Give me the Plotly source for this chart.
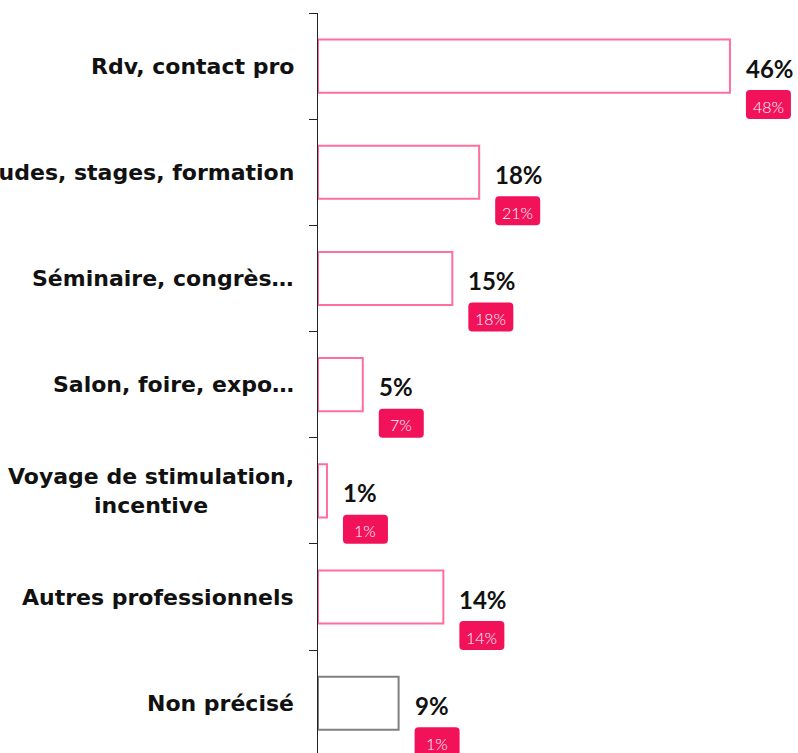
import plotly.graph_objects as go

categories = ["Rdv, contact pro", "Études, stages, formation", "Séminaire, congrès…",
              "Salon, foire, expo…", "Voyage de stimulation,<br>incentive",
              "Autres professionnels", "Non précisé"]
values = [46, 18, 15, 5, 1, 14, 9]
value_labels = ["46%", "18%", "15%", "5%", "1%", "14%", "9%"]
badge_labels = ["48%", "21%", "18%", "7%", "1%", "14%", "1%"]
outline_colors = ["#FF6F9C"] * 6 + ["#808080"]

PINK = "#F2125A"
ypos = list(range(len(categories)))

fig = go.Figure()
fig.add_trace(go.Bar(
    y=ypos, x=values, orientation="h", width=0.5,
    marker=dict(color="white", line=dict(color=outline_colors, width=2)),
    hoverinfo="skip",
))

annotations = []
shapes = []
for i, (cat, v, vl, bl) in enumerate(zip(categories, values, value_labels, badge_labels)):
    annotations.append(dict(
        xref="paper", x=0, yref="y", y=i, text=cat, showarrow=False,
        xanchor="right", yanchor="middle", xshift=-22, align="center",
        font=dict(family="DejaVu Sans", size=22, color="#111111", weight="bold"),
    ))
    annotations.append(dict(
        xref="x", x=v, yref="y", y=i, text=vl, showarrow=False,
        xanchor="left", yanchor="middle", xshift=14, yshift=-2,
        font=dict(family="Lato", size=24, color="#111111", weight="bold"),
    ))
    # badge (rounded rect, pixel-sized, anchored at bar end)
    x0, x1, ytop, ybot, r = 16, 61, -24, -53, 4
    path = (f"M {x0+r},{ytop} L {x1-r},{ytop} Q {x1},{ytop} {x1},{ytop-r} "
            f"L {x1},{ybot+r} Q {x1},{ybot} {x1-r},{ybot} L {x0+r},{ybot} "
            f"Q {x0},{ybot} {x0},{ybot+r} L {x0},{ytop-r} Q {x0},{ytop} {x0+r},{ytop} Z")
    shapes.append(dict(
        type="path", xref="x", yref="y", xsizemode="pixel", ysizemode="pixel",
        xanchor=v, yanchor=i, path=path, fillcolor=PINK, line=dict(width=0),
    ))
    annotations.append(dict(
        xref="x", x=v, yref="y", y=i, text=bl, showarrow=False,
        xanchor="center", yanchor="middle", xshift=38.5, yshift=-40,
        font=dict(family="Lato", size=16, color="white", weight=300),
    ))

fig.update_layout(
    width=798, height=753,
    margin=dict(l=318, r=0, t=13, b=0),
    paper_bgcolor="white", plot_bgcolor="white",
    showlegend=False,
    xaxis=dict(range=[0, 53.6], visible=False, fixedrange=True),
    yaxis=dict(range=[6.469, -0.5], showline=True, linecolor="#222222", linewidth=1,
               ticks="outside", ticklen=8, tickcolor="#222222",
               tickvals=[k - 0.5 for k in range(8)], showticklabels=False,
               showgrid=False, zeroline=False, fixedrange=True),
    annotations=annotations, shapes=shapes,
)

fig.write_html("out.html", config={"displayModeBar": False},
               post_script="document.body.style.margin='0';document.body.style.overflow='hidden';")
